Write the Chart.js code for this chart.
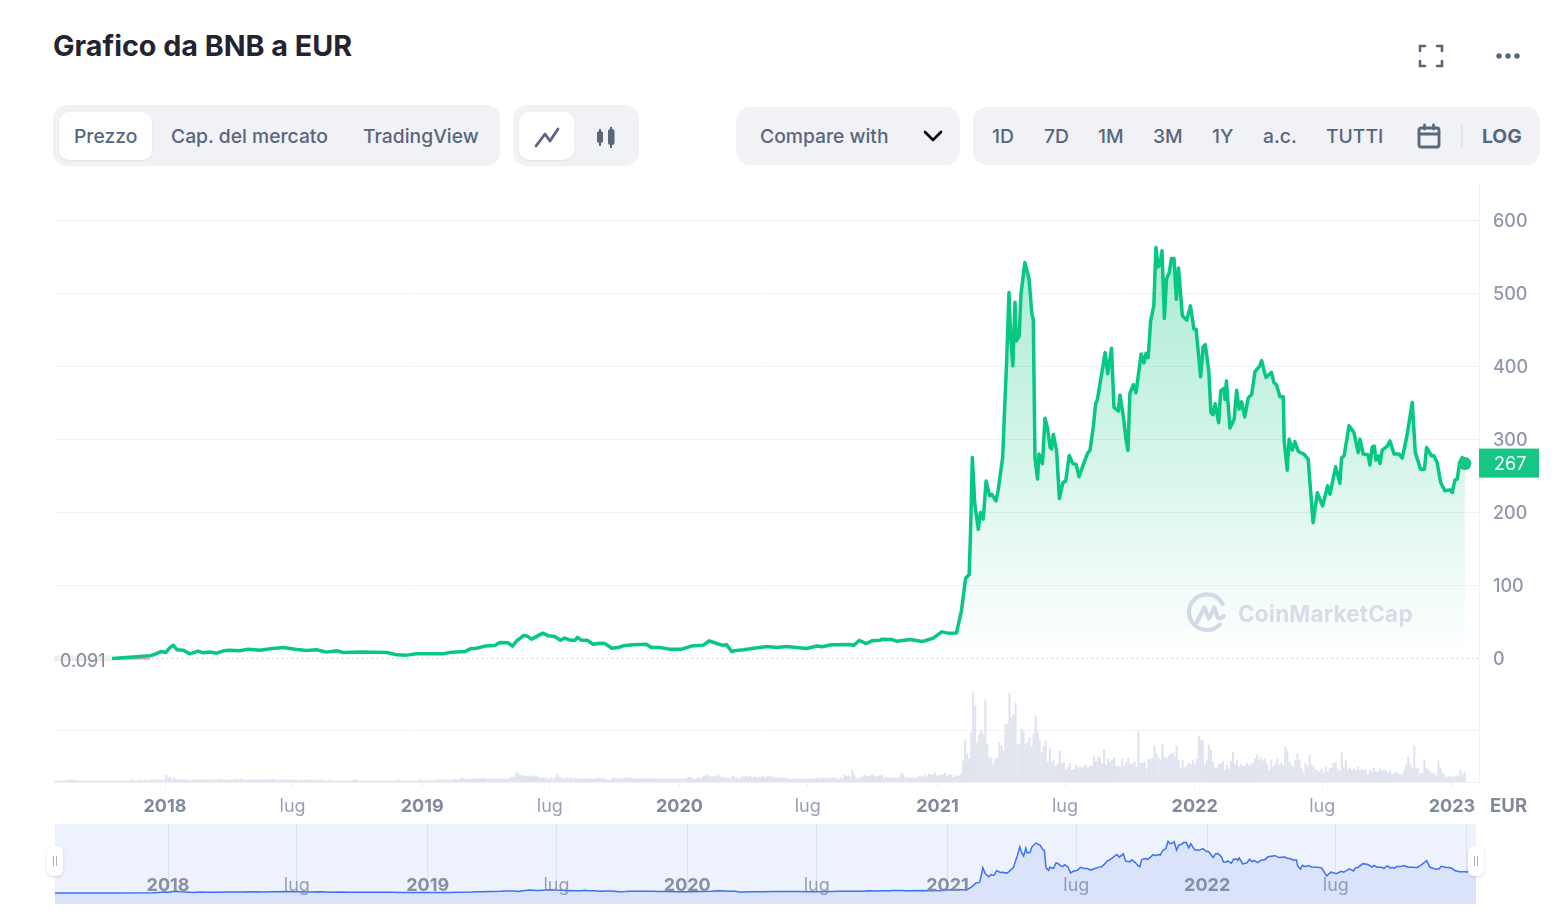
<!DOCTYPE html>
<html>
<head>
<meta charset="utf-8">
<title>Grafico da BNB a EUR</title>
<script src="https://cdn.jsdelivr.net/npm/chart.js@4/dist/chart.umd.min.js"></script>
<style>
  html, body { margin: 0; padding: 0; background: #fff; }
  body { width: 1562px; height: 914px; position: relative; overflow: hidden; font-family: Inter, sans-serif; color: #58667e; }
  .abs { position: absolute; }
  .pill { position: absolute; background: #f0f2f6; border-radius: 14px; }
  .white { position: absolute; background: #fff; border-radius: 10px; box-shadow: 0 1px 2px rgba(88,102,126,.12); }
  .t { position: absolute; top: 124px; line-height: 24px; font-size: 19.3px; font-weight: 500; white-space: nowrap; }
  canvas { display: block; }
</style>
</head>
<body>
<div class="abs" style="left:53px;top:28px;font-size:28.7px;line-height:36px;font-weight:700;color:#222531;white-space:nowrap">Grafico da BNB a EUR</div>

<svg class="abs" style="left:1415px;top:41px" width="32" height="30" fill="none" stroke="#58667e" stroke-width="2.6" stroke-linecap="round">
  <path d="M5 10V5H10M22 5H27V10M27 20V25H22M10 25H5V20"/>
</svg>
<svg class="abs" style="left:1492px;top:50px" width="32" height="12" fill="#58667e">
  <circle cx="7" cy="6" r="2.7"/><circle cx="16" cy="6" r="2.7"/><circle cx="25" cy="6" r="2.7"/>
</svg>

<div class="pill" style="left:53px;top:105px;width:447px;height:61px"></div>
<div class="white" style="left:59px;top:112px;width:93px;height:48px"></div>
<div class="t" style="left:74px">Prezzo</div>
<div class="t" style="left:171px">Cap. del mercato</div>
<div class="t" style="left:363px">TradingView</div>

<div class="pill" style="left:513px;top:105px;width:126px;height:61px"></div>
<div class="white" style="left:519px;top:112px;width:55px;height:48px"></div>
<svg class="abs" style="left:530px;top:124px" width="34" height="26" fill="none" stroke="#58667e" stroke-width="2.8" stroke-linecap="round" stroke-linejoin="round">
  <path d="M6 22L15 10L20 17L28 5"/>
</svg>
<svg class="abs" style="left:592px;top:124px" width="28" height="26" fill="#58667e" stroke="#58667e" stroke-width="2">
  <rect x="6" y="8" width="4" height="10" rx="1.5"/><path d="M8 5V22"/>
  <rect x="17" y="6" width="4.5" height="14" rx="1.5"/><path d="M19 3V24"/>
</svg>

<div class="pill" style="left:736px;top:107px;width:224px;height:58px"></div>
<div class="t" style="left:760px">Compare with</div>
<svg class="abs" style="left:922px;top:128px" width="22" height="16" fill="none" stroke="#000" stroke-width="2.6" stroke-linecap="round" stroke-linejoin="round">
  <path d="M3 4L11 12L19 4"/>
</svg>

<div class="pill" style="left:973px;top:107px;width:567px;height:58px"></div>
<div class="t" style="left:992px">1D</div>
<div class="t" style="left:1044px">7D</div>
<div class="t" style="left:1098px">1M</div>
<div class="t" style="left:1153px">3M</div>
<div class="t" style="left:1212px">1Y</div>
<div class="t" style="left:1263px">a.c.</div>
<div class="t" style="left:1326px">TUTTI</div>
<svg class="abs" style="left:1415px;top:122px" width="28" height="28" fill="none" stroke="#58667e" stroke-width="2.8" stroke-linecap="round">
  <rect x="4" y="6" width="20" height="19" rx="2"/><path d="M4 12H24M9.5 3V7M18.5 3V7"/>
</svg>
<div class="abs" style="left:1461px;top:125px;width:2px;height:22px;background:#dfe3ea"></div>
<div class="t" style="left:1482px;font-weight:700">LOG</div>

<div class="abs" style="left:54px;top:184px;width:1486px;height:636px"><canvas id="priceChart" width="1486" height="636"></canvas></div>

<svg class="abs" style="left:1171px;top:580px" width="80" height="60" viewBox="0 0 240 180" fill="none" stroke="#d4d9e8" stroke-width="12.5" stroke-linecap="round" stroke-linejoin="round">
  <path d="M146 134C135 145 122 150 108 150C78 150 54 126 54 97C54 67 78 43 108 43C128 43 146 54 155 72"/>
  <path d="M78 126L100 82L114 116L130 82L138 108C141 118 150 118 158 108"/>
</svg>
<div class="abs" style="left:1238px;top:599px;font-size:22.5px;line-height:30px;font-weight:700;color:#d8dce9;letter-spacing:.2px;white-space:nowrap">CoinMarketCap</div>

<div class="abs" style="left:1490px;top:793px;font-size:18.6px;line-height:24px;font-weight:700;color:#808a9d">EUR</div>

<div class="abs" style="left:55px;top:824px;width:1421px;height:80px;background:#eef2fd"><canvas id="navChart" width="1421" height="80"></canvas></div>
<div class="abs" style="left:47px;top:846px;width:16px;height:30px;background:#fff;border-radius:6px;box-shadow:0 1px 3px rgba(88,102,126,.25)"></div>
<div class="abs" style="left:53px;top:856px;width:1px;height:10px;background:#a6b0c3;box-shadow:3px 0 0 #a6b0c3"></div>
<div class="abs" style="left:1468px;top:846px;width:16px;height:30px;background:#fff;border-radius:6px;box-shadow:0 1px 3px rgba(88,102,126,.25)"></div>
<div class="abs" style="left:1474px;top:856px;width:1px;height:10px;background:#a6b0c3;box-shadow:3px 0 0 #a6b0c3"></div>

<script>
// days counted from 2018-01-01, values in EUR
const priceDays = [-75,-21,-14,-5,1,7,12,17,26,35,47,54,64,73,83,92,106,118,135,149,168,187,201,215,229,244,253,277,315,329,343,357,395,407,426,433,442,454,468,
  475,487,493,499,509,514,520,527,536,544,553,561,567,575,582,585,591,599,607,617,624,634,643,650,664,683,690,702,716,733,747,764,772,783,790,797,804,808,821,835,854,868,882,910,925,932,946,972,977,985,995,1003,1015,1017,1031,1038,1057,1075,1090,1102,1111,1123,1130,1136,1141,1143,
  1145.5,1149,1154,1157,1161,1165,1170,1173,1179,1182,1188.5,1192,1194,1197.5,1200,1203,1206,1208,1212,1214.5,1220,1226,1230,1232,1234.4,1238,1240,1245,1248.6,1252,1256,1258,1260.4,1265,1269,1274,1278,1283,1288,1292.6,1297,1303,1309,1312.4,1317,1320.5,1323,1334,1337.5,1343,1346.5,1352.6,1355,1360,1363.5,1366.3,1369,1374,1377.7,1385,1389,1392,1395,1398.5,1403,1406,1409,1412,1414.6,1418,1421,1425,1428,1431.6,1435,1438,1443.5,1449.6,1455,1460,1463,1469.4,1473,1476,1481,1484,1487,1490,1495,1498,1502.5,1504,1506,
  1511,1517,1520.5,1524,1527.5,1532,1537,1542,1546.5,1553.6,1556,1562,1570,1573.4,1577,1582,1586.7,1588,1592.3,1595,1599.4,1603,1608,1616,1622,1629,1635,1642.5,1649.6,1653,1661,1667,1669.4,1673,1680,1687,1693,1695.5,1700,1707,1709.6,1713,1716,1718,1721.5,1724,1727,1734,1738,1744,1751,1755.5,1761.7,1769.7,1774,1781.5,1787,1790,1797,1800.4,1805,1810,1816,1823,1826.5,1830,1833.5,1837,1840.6,1844.4];
const priceValues = [0.091,3.7,5.9,9.6,8.2,15,18,12,11.4,6.4,10,7.8,9,7.3,10.5,11.4,10.5,12.8,11.4,13.2,15,12.3,11,11.9,8.7,10.5,8.2,9,8.2,5,4.6,6.4,6.4,8.7,9.6,13.2,14,17,17.8,
  22,21.5,17,24,31.5,30.6,26.5,30,34.7,31,30,25,28,25,25,29,25,25,19.6,21,20.5,14,15,17.4,18.7,19.6,15,15,12.8,12.8,17,18.3,24.2,20.5,18.3,18.7,9.6,10.5,11.9,14,16.4,15,16.4,13.7,17,16,18.7,19.2,17.8,24.7,20.5,24.2,25,26.5,26,23.7,26,23.3,27.9,36.5,34.7,35,65,110,115,175,
  275.4,211.5,177,200,191,243,223,225,216,230,275,358,403,501.4,440,401,488,435,442,499,542.5,520,472,465,275,246,280,267,329,316.5,289,287,307,285,219,241,243,278,267,266,249,266,281,285,316.5,349,355,419,390,425,344,339,361,330,300,285,363,375,364,417,405,418,412,462.6,483,563,536.6,540,558.5,466,520,529,548,548,492,535,469.5,463.5,483,451,451,386,427,430,394,337,334,349,323,367,370,355,380,
  315.6,328,367.6,341.6,351.6,331,357,362,393,401,408,385,392,378,375,358.5,358.5,298,258,300.5,285.4,297,283.6,280,273,186,227,209,236.6,225,262.6,240,274.5,277.7,318.8,309.6,282,300.5,280,279,265,290,291,271.7,277.7,267,285.4,290.5,298,280,280,274.5,302.8,350.7,282,259.4,259.4,289,277.7,277.7,268.5,241,229.7,231,227.4,244.3,245.7,268.5,275.4,267];

// volume in tens of millions, one bar about every three days
const volumeEarly = [3,3,3,3,3,3,3,6,6,6,6,
  3,3,3,3,3,3,3,3,3,3,3,3,3,3,3,3,3,3,3,3,3,3,3,3,3,3,3,3,3,
  6,3,3,3,6,3,6,6,3,6,6,6,6,6,6,6,6,21,12,15,6,12,9,6,6,6,6,6,6,3,
  6,6,6,6,6,6,6,6,6,6,6,6,6,6,9,6,6,6,6,6,6,6,9,6,6,9,
  6,6,6,6,6,6,6,6,6,6,6,6,6,6,6,9,6,6,6,6,6,6,6,6,6,6,6,6,3,6,6,3,6,6,6,6,6,6,3,6,6,3,3,3,6,
  3,3,3,3,3,3,3,3,3,3,3,6,6,6,
  3,3,3,3,3,3,3,3,3,3,3,3,3,3,3,3,3,3,3,6,6,3,3,3,3,3,3,3,3,3,3,6,6,3,3,6,3,6,3,
  6,6,6,6,6,6,6,6,6,6,9,6,6,12,9,9,9,6,9,9,9,9,9,9,12,9,9,9,9,9,9,
  9,9,9,9,9,9,9,12,15,15,27,24,21,18,18,18,15,18,18,15,18,15,12,12,12,12,9,9,15,6,15,24,15,12,9,9,12,9,12,9,12,9,
  9,9,9,9,9,9,9,9,9,9,12,9,12,9,6,6,6,12,12,9,12,9,9,12,12,12,12,12,9,9,9,9,9,12,9,12,9,12,
  9,9,9,9,9,9,9,9,9,9,9,9,9,9,9,9,9,12,15,12,9,9,12,12,9,15,18,21,18,15,15,18,18,21,15,15,12,12,12,9,18,15,12,9,12,15,15,18,15,18,12,15,15,12,15,15,15,12,18,15,15,15,12,12,12,12,12,12,
  9,9,9,9,9,9,9,9,9,9,9,9,9,9,9,12,12,9,12,9,12,9,12,12,12,9,9,12,9,21,18,18,15,36,21,9,12,12,15,21,18,18,18,24,18,15,18,18,21,12,15,12,12,12,12,12,12,15,27,21,12,15,12,12,12,12,12,18,18,15,21,15,24,21,21,27,18,21];
const volumeLate = [21,21,27,18,21,21,14,18,18,18,24,63,126,84,69,147,267,228,117,141,156,144,246,114,72,72,51,69,72,117,108,93,171,174,267,195,201,237,114,114,159,150,114,120,135,105,144,198,150,126,87,108,123,60,99,60,66,48,54,93,57,57,36,45,57,36,39,51,45,45,42,48,51,42,48,48,75,60,75,72,54,96,51,69,60,66,72,48,48,45,69,48,60,72,54,51,60,45,150,57,57,60,39,69,66,72,108,84,72,66,114,75,69,78,84,87,75,108,66,42,66,42,48,57,51,66,51,69,138,126,123,54,66,111,96,60,42,42,54,54,63,36,51,39,63,90,51,66,45,54,48,48,57,48,57,54,69,81,66,72,63,69,54,36,66,45,54,69,51,57,51,105,93,60,51,45,66,84,66,42,27,57,45,81,51,45,36,33,30,39,27,45,30,42,42,57,57,39,33,87,45,66,36,42,36,39,36,45,36,36,36,36,21,36,30,42,30,30,39,33,36,33,27,36,24,24,30,24,21,21,36,51,75,54,42,108,42,39,24,27,66,42,36,30,27,24,18,63,42,27,21,12,18,15,15,15,18,18,36,21,30];
const volumeEarlyFirstDay = -157, volumeEarlyLastDay = 1098;
const volumeLateFirstDay = 1101, volumeLateLastDay = 1844;

const priceTicks = [0,100,200,300,400,500,600];
const tickDays = [0,181,365,546,730,912,1096,1277,1461,1642,1826];
const tickLabels = ['2018','lug','2019','lug','2020','lug','2021','lug','2022','lug','2023'];
const navTickLabels = ['2018','lug','2019','lug','2020','lug','2021','lug','2022','lug',''];
const navFirstDay = -159;
const navFirstValue = 0.091;
const lastPrice = 267;
const firstPrice = 0.091;
const volumeGrid = 156;

const FONT = 'Inter';
const priceMin = -169.2, priceMax = 650;
const labelShift = 2; // tick labels sit just under their grid line
const pricePoints = priceDays.map((d, i) => ({ x: d, y: priceValues[i] }));

function spread(values, first, last) {
  return values.map((v, i) => ({ x: first + i * (last - first) / (values.length - 1), y: v }));
}
const volumePoints = spread(volumeEarly, volumeEarlyFirstDay, volumeEarlyLastDay)
  .concat(spread(volumeLate, volumeLateFirstDay, volumeLateLastDay));

// labels must not push the plot area in
function noPadding(s) {
  s.paddingLeft = s.paddingRight = s.paddingTop = s.paddingBottom = 0;
}

// price tag on the right, 0.091 on the left
const labelsPlugin = {
  id: 'labels',
  beforeDatasetsDraw(chart) {
    const { ctx, chartArea, scales } = chart;
    const y0 = scales.y.getPixelForValue(firstPrice);
    const xs = scales.x.getPixelForValue(priceDays[0]);
    ctx.save();
    ctx.fillStyle = 'rgba(22,199,132,.12)';
    ctx.fillRect(chartArea.left, y0 - 3, xs - chartArea.left, 3);
    ctx.fillStyle = 'rgba(234,57,67,.12)';
    ctx.fillRect(chartArea.left, y0, xs - chartArea.left, 3);
    ctx.fillStyle = 'rgba(234,57,67,.8)';
    ctx.fillRect(xs, y0, scales.x.getPixelForValue(-21) - xs, 1);
    ctx.restore();
  },
  afterDraw(chart) {
    const { ctx, chartArea, scales } = chart;
    const yp = scales.y.getPixelForValue(lastPrice);
    ctx.save();
    ctx.fillStyle = '#16c784';
    ctx.fillRect(chartArea.right, yp - 15, 60, 29);
    ctx.fillStyle = '#fff';
    ctx.font = '18px ' + FONT;
    ctx.textBaseline = 'middle';
    ctx.fillText(String(lastPrice), chartArea.right + 15, yp + 1);
    ctx.fillStyle = '#808a9d';
    ctx.fillText(String(firstPrice), chartArea.left + 6, scales.y.getPixelForValue(firstPrice) + 3.5);
    ctx.restore();
  }
};

// year labels inside the navigator, over the line
const navLabelsPlugin = {
  id: 'navLabels',
  afterDatasetsDraw(chart) {
    const { ctx, scales } = chart;
    ctx.save();
    ctx.textAlign = 'center';
    ctx.textBaseline = 'middle';
    navTickLabels.forEach((label, i) => {
      const lug = label === 'lug';
      ctx.font = (lug ? '400' : '700') + ' 18px ' + FONT;
      ctx.fillStyle = lug ? 'rgba(128,138,157,.8)' : 'rgba(128,138,157,.95)';
      ctx.fillText(label, scales.x.getPixelForValue(tickDays[i]), 61.5);
    });
    ctx.restore();
  }
};

new Chart(document.getElementById('priceChart').getContext('2d'), {
  type: 'line',
  plugins: [labelsPlugin],
  data: {
    datasets: [
      {
        label: 'base', data: [{ x: priceDays[0], y: firstPrice }, { x: 1864, y: firstPrice }],
        borderColor: '#a9aeba', borderWidth: 1, borderDash: [1, 4], pointRadius: 0, order: 3, yAxisID: 'y'
      },
      {
        label: 'Prezzo', data: pricePoints, borderColor: '#06c882', borderWidth: 3.5, pointRadius: 0, tension: 0,
        borderJoinStyle: 'round', order: 1, yAxisID: 'y', fill: { value: 0 },
        backgroundColor(c) {
          const { ctx, scales, chartArea } = c.chart;
          if (!chartArea) return 'transparent';
          const g = ctx.createLinearGradient(0, scales.y.getPixelForValue(565), 0, scales.y.getPixelForValue(0));
          g.addColorStop(0, 'rgba(22,199,132,.36)');
          g.addColorStop(1, 'rgba(22,199,132,0)');
          return g;
        }
      },
      {
        label: 'Ultimo', data: [{ x: priceDays[priceDays.length - 1], y: lastPrice }], pointRadius: 6.5,
        pointBackgroundColor: '#16c784', pointBorderWidth: 0, showLine: false, order: 0, yAxisID: 'y'
      },
      {
        type: 'bar', label: 'Volume', data: volumePoints, backgroundColor: '#dfe3ed', barThickness: 1.4,
        order: 4, yAxisID: 'yVol', grouped: false
      }
    ]
  },
  options: {
    responsive: false,
    animation: false,
    layout: { padding: 0, autoPadding: false },
    plugins: { legend: { display: false }, tooltip: { enabled: false } },
    scales: {
      x: {
        type: 'linear', min: -157.5, max: 1864.4, offset: false,
        afterBuildTicks(s) { s.ticks = tickDays.map(v => ({ value: v })); },
        afterFit(s) { s.height = 38; noPadding(s); },
        grid: { offset: false, drawOnChartArea: false, drawTicks: true, tickLength: 6, tickColor: '#eff2f5' },
        border: { color: '#eff2f5' },
        ticks: {
          autoSkip: false, maxRotation: 0, padding: 8,
          callback(v, i) { return tickLabels[i]; },
          color(c) { return tickLabels[c.index] === 'lug' ? '#98a0b3' : '#808a9d'; },
          font(c) { return { family: FONT, size: 18, weight: tickLabels[c.index] === 'lug' ? 400 : 700 }; }
        }
      },
      y: {
        position: 'right', min: priceMin, max: priceMax, weight: 0,
        afterBuildTicks(s) { s.ticks = priceTicks.map(v => ({ value: v })); },
        afterFit(s) { s.width = 0; noPadding(s); },
        grid: { drawTicks: false, color(c) { return c.tick && c.tick.value === 0 ? 'transparent' : '#eff2f5'; } },
        border: { color: '#eff2f5' },
        ticks: { display: false }
      },
      yLabels: {
        position: 'right', min: priceMin + labelShift, max: priceMax + labelShift, weight: 5,
        afterBuildTicks(s) { s.ticks = priceTicks.map(v => ({ value: v })); },
        afterFit(s) { s.width = 61; noPadding(s); },
        grid: { display: false },
        border: { display: false },
        ticks: { padding: 6, color: '#8f97aa', font: { family: FONT, size: 18, weight: 500 } }
      },
      yVol: {
        position: 'right', min: 0, max: 1794, weight: 0,
        afterBuildTicks(s) { s.ticks = [{ value: volumeGrid }]; },
        afterFit(s) { s.width = 0; noPadding(s); },
        grid: { drawTicks: false, color: '#eff2f5' },
        border: { display: false },
        ticks: { display: false }
      }
    }
  }
});

new Chart(document.getElementById('navChart').getContext('2d'), {
  type: 'line',
  plugins: [navLabelsPlugin],
  data: {
    datasets: [{
      label: 'Prezzo', data: [{ x: navFirstDay, y: navFirstValue }].concat(pricePoints),
      borderColor: '#3b71f3', borderWidth: 1.5, pointRadius: 0, tension: 0,
      fill: 'start', backgroundColor: '#dbe3fb'
    }]
  },
  options: {
    responsive: false,
    animation: false,
    layout: { padding: 0, autoPadding: false },
    plugins: { legend: { display: false }, tooltip: { enabled: false } },
    scales: {
      x: {
        type: 'linear', min: navFirstDay, max: 1839,
        afterBuildTicks(s) { s.ticks = tickDays.map(v => ({ value: v })); },
        afterFit(s) { s.height = 0; noPadding(s); },
        grid: { drawTicks: false, color: '#d9e1f5' },
        border: { display: false },
        ticks: { display: false }
      },
      y: { display: false, min: -120, max: 750 }
    }
  }
});
</script>
</body>
</html>
